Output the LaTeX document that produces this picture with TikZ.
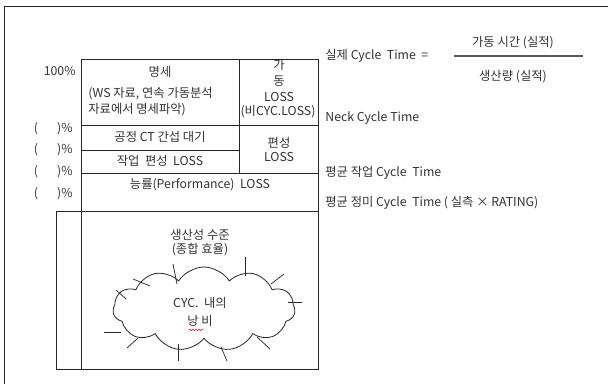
\documentclass[tikz,border=0pt]{standalone}
\usepackage{fontspec}
\setmainfont{Noto Sans CJK KR}
\usetikzlibrary{shapes.symbols,decorations.pathmorphing}
\begin{document}
\begin{tikzpicture}[x=1pt,y=-1pt,line width=0.8pt,
  rule/.style={draw=black!85},
  txt/.style={font=\fontsize{12.3}{14}\selectfont,text=black!80,inner sep=0pt},
  tick/.style={draw=black!85,line width=0.7pt}]
\useasboundingbox (0,0) rectangle (608,384);
\fill[white] (0,0) rectangle (608,384);

% open outer frame
\draw[rule] (4,384) -- (4,6) -- (608,6);

% table of losses
\draw[rule] (81,59) -- (318,59) -- (318,369) -- (56,369) -- (56,211) -- (318,211);
\draw[rule] (81,59) -- (81,370);
\draw[rule] (239,59) -- (239,173);
\draw[rule] (81,125) -- (318,125);
\draw[rule] (81,150) -- (239,150);
\draw[rule] (81,173) -- (318,173);

% percentage scale
\node[txt,anchor=east] (p100) at (76,71) {100\%};
\node[txt,anchor=east] (p1) at (73,129) {(\hspace{19pt})\%};
\node[txt,anchor=east] (p2) at (73,150) {(\hspace{19pt})\%};
\node[txt,anchor=east] (p3) at (73,172) {(\hspace{19pt})\%};
\node[txt,anchor=east] (p4) at (73,194) {(\hspace{19pt})\%};

% cell texts
\node[txt] (spec) at (160,72) {명세};
\node[txt,anchor=west] (spec1) at (88,94) {(WS 자료, 연속 가동분석};
\node[txt,anchor=west] (spec2) at (88,110) {자료에서 명세파악)};
\node[txt] (ga) at (279,65) {가};
\node[txt] (dong) at (279,81) {동};
\node[txt] (gloss) at (279,97) {LOSS};
\node[txt] (ncyc) at (278,112) {(비CYC.LOSS)};
\node[txt] (interf) at (160,137) {공정 CT 간섭 대기};
\node[txt] (work) at (160,161) {작업\ \ 편성\ \ LOSS};
\node[txt] (pyeon) at (279,143) {편성};
\node[txt] (ploss) at (279,157) {LOSS};
\node[txt] (perf) at (200,185) {능률(Performance)\ \ LOSS};
\node[txt] (prod1) at (200,235) {생산성 수준};
\node[txt] (prod2) at (200,250) {(종합 효율)};

% waste cloud
\node[cloud,rule,cloud puffs=11,cloud puff arc=115,aspect=2.15,
  minimum width=182,minimum height=84,inner sep=0pt] (waste) at (204,309) {};
\node[txt] (waste1) at (200,303) {CYC.\ \ 내의};
\node[txt] (waste2) at (200,321) {낭 비};
\draw[red,line width=0.5pt,decorate,decoration={snake,amplitude=0.9pt,segment length=3pt}]
  (189,330) -- (203,330);

% marks across the cloud outline
\draw[tick] (133,279) -- (150,286);
\draw[tick] (173,264) -- (177,284);
\draw[tick] (245,257) -- (245,276);
\draw[tick] (271,284) -- (284,274);
\draw[tick] (116,290) -- (126,299);
\draw[tick] (288,302) -- (302,302);
\draw[tick] (104,332) -- (121,332);
\draw[tick] (127,348) -- (138,338);
\draw[tick] (178,344) -- (178,361);
\draw[tick] (221,347) -- (227,361);
\draw[tick] (257,337) -- (270,349);

% cycle time definitions
\node[txt,anchor=west] (actual) at (325,56) {실제 Cycle\ \ Time\ \ =};
\node[txt] (num) at (513,43) {가동 시간 (실적)};
\node[txt] (den) at (513,77) {생산량 (실적)};
\coordinate (barl) at (454,56);
\coordinate (barr) at (583,56);
\draw[draw=black!65,line width=1.3pt] (barl) -- (barr);
\node[txt,anchor=west] (neck) at (325,118) {Neck Cycle Time};
\node[txt,anchor=west] (avgw) at (325,173) {평균 작업 Cycle\ \ Time};
\node[txt,anchor=west] (avgn) at (325,203) {평균 정미 Cycle\ \ Time ( 실측 × RATING)};
\end{tikzpicture}
\end{document}
